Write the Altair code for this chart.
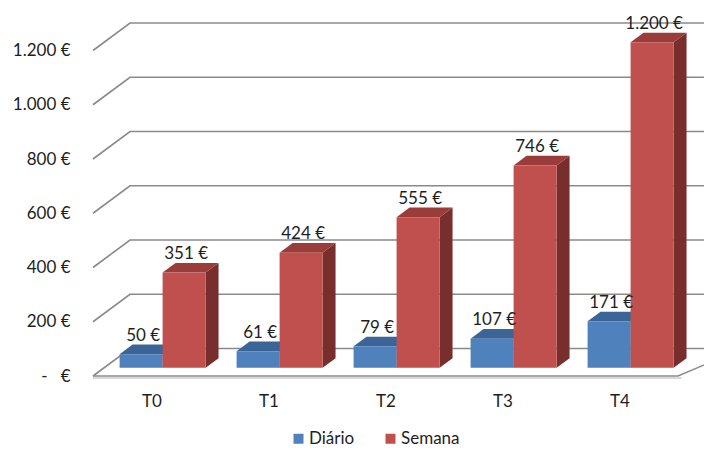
import altair as alt
import pandas as pd

# ---------------- data ----------------
categories = ["T0", "T1", "T2", "T3", "T4"]
series_names = ["Diário", "Semana"]
diario = [50, 61, 79, 107, 171]
semana = [351, 424, 555, 746, 1200]
y_tick_values = [0, 200, 400, 600, 800, 1000, 1200]
NB = "\u00a0"
y_tick_labels = ["-" + NB * 3 + "€", "200 €", "400 €", "600 €", "800 €", "1.000 €", "1.200 €"]

# ---------------- style / geometry ----------------
W, H = 704, 450
CAT_PX = 117.0          # px per category
EUR_PX = 0.27125        # px per euro
X0_PX, Y0_PX = 93.0, 376.0
DEPTH_X = 37.0 / CAT_PX
DEPTH_Y = 27.5 / EUR_PX
BAR_FRONT, BAR_BACK = 0.30, 0.65
DD = BAR_BACK - BAR_FRONT
BAR_W = 43.0 / CAT_PX
RIGHT_SKEW = 65.0 / CAT_PX
GRID_END = len(categories) + RIGHT_SKEW
FONT = "Lato"
FS = 17
TXT = "#1e1e1e"

front_cols = ["#4F81BD", "#C0504D"]
top_cols = ["#3B6596", "#9A3D3A"]
side_cols = ["#2F5078", "#772E2C"]

x_scale = alt.Scale(domain=[-X0_PX / CAT_PX, (W - X0_PX) / CAT_PX], nice=False, zero=False)
y_scale = alt.Scale(domain=[-(H - Y0_PX) / EUR_PX, Y0_PX / EUR_PX], nice=False, zero=False)

# ---------------- derived tables ----------------
fronts, sides, tops, labels = [], [], [], []
all_vals = [diario, semana]
for i, cat in enumerate(categories):
    c = i + 0.5 + BAR_FRONT * DEPTH_X
    for s, name in enumerate(series_names):
        v = all_vals[s][i]
        xl = c - BAR_W + s * BAR_W
        xr = xl + BAR_W
        yb = BAR_FRONT * DEPTH_Y
        yt = v + yb
        bid = f"{cat}-{name}"
        fronts.append(dict(series=name, x=xl, x2=xr, y=yb, y2=yt, order=s))
        sides.append(dict(bid=bid, x=xr, y=yb, y2=yt, fill=side_cols[s], o=s))
        sides.append(dict(bid=bid, x=xr + DD * DEPTH_X, y=yb + DD * DEPTH_Y,
                          y2=yt + DD * DEPTH_Y, fill=side_cols[s], o=s))
        tops.append(dict(bid=bid, y=yt, x=xl, x2=xr, fill=top_cols[s]))
        tops.append(dict(bid=bid, y=yt + DD * DEPTH_Y, x=xl + DD * DEPTH_X,
                         x2=xr + DD * DEPTH_X, fill=top_cols[s]))
        labels.append(dict(x=(xl + xr) / 2, y=yt + DD * DEPTH_Y,
                           text=f"{v:,}".replace(",", ".") + " €"))

grid = []
for t in y_tick_values:
    grid.append(dict(t=t, x=0.0, y=t))
    grid.append(dict(t=t, x=DEPTH_X, y=t + DEPTH_Y))
    grid.append(dict(t=t, x=GRID_END, y=t + DEPTH_Y))

floor = [dict(x=0.0, y=0.0), dict(x=float(len(categories)), y=0.0),
         dict(x=len(categories) + RIGHT_SKEW, y=DEPTH_Y)]
floor_shadow = [dict(x=0.0, y=-7.0), dict(x=float(len(categories)) + 0.03, y=-7.0)]

cat_vals = [i + 0.5 for i in range(len(categories))]


def ternary(values, labs, key="datum.value"):
    expr = "''"
    for v, l in reversed(list(zip(values, labs))):
        expr = f"{key} == {v} ? '{l}' : ({expr})"
    return expr


x_axis = alt.Axis(values=cat_vals, labelExpr=ternary(cat_vals, categories), offset=-(H - 391),
                  ticks=False, tickSize=0, domain=False, grid=False, labelPadding=2,
                  labelFont=FONT, labelFontSize=FS, labelColor=TXT, title=None,
                  labelFlush=False, labelOverlap=False)
y_axis = alt.Axis(values=y_tick_values, labelExpr=ternary(y_tick_values, y_tick_labels),
                  offset=-X0_PX, ticks=False, tickSize=0, domain=False, grid=False,
                  labelPadding=23, labelFont=FONT, labelFontSize=FS, labelColor=TXT,
                  title=None, labelAlign="right", labelBaseline="middle",
                  labelFlush=False, labelOverlap=False)

base_x = alt.X("x:Q", scale=x_scale, axis=x_axis)
base_y = alt.Y("y:Q", scale=y_scale, axis=y_axis)

grid_layer = alt.Chart(pd.DataFrame(grid)).mark_line(color="#8a8a8a", strokeWidth=1.6).encode(
    x=base_x, y=base_y, detail="t:N", order="x:Q")

shadow_layer = alt.Chart(pd.DataFrame(floor_shadow)).mark_line(color="#d9d9d9", strokeWidth=2).encode(
    x=alt.X("x:Q", scale=x_scale), y=alt.Y("y:Q", scale=y_scale))

floor_layer = alt.Chart(pd.DataFrame(floor)).mark_line(color="#8a8a8a", strokeWidth=1.6).encode(
    x=alt.X("x:Q", scale=x_scale), y=alt.Y("y:Q", scale=y_scale), order="x:Q")

side_layer = alt.Chart(pd.DataFrame(sides)).mark_area(orient="vertical").encode(
    x=alt.X("x:Q", scale=x_scale), y=alt.Y("y:Q", scale=y_scale), y2="y2:Q",
    detail="bid:N", color=alt.Color("fill:N", scale=None, legend=None))

top_layer = alt.Chart(pd.DataFrame(tops)).mark_area(orient="horizontal").encode(
    y=alt.Y("y:Q", scale=y_scale), x=alt.X("x:Q", scale=x_scale), x2="x2:Q",
    detail="bid:N", color=alt.Color("fill:N", scale=None, legend=None))

front_layer = alt.Chart(pd.DataFrame(fronts)).mark_rect().encode(
    x=alt.X("x:Q", scale=x_scale), x2="x2:Q",
    y=alt.Y("y:Q", scale=y_scale), y2="y2:Q",
    color=alt.Color("series:N",
                    scale=alt.Scale(domain=series_names, range=front_cols),
                    legend=alt.Legend(orient="none", legendX=290, legendY=430,
                                      direction="horizontal", title=None,
                                      symbolType="square", symbolSize=100,
                                      symbolStrokeWidth=0, labelFont=FONT,
                                      labelFontSize=FS, labelColor=TXT,
                                      labelOffset=2, columnPadding=27, padding=0)))

label_layer = alt.Chart(pd.DataFrame(labels)).mark_text(
    font=FONT, fontSize=FS, color=TXT, baseline="alphabetic", align="center", dy=-4, dx=2
).encode(x=alt.X("x:Q", scale=x_scale), y=alt.Y("y:Q", scale=y_scale), text="text:N")

chart = alt.layer(
    grid_layer, shadow_layer, floor_layer, side_layer, top_layer, front_layer, label_layer
).resolve_scale(color="independent").properties(
    width=W, height=H, autosize="none", padding=0, background="white"
).configure_view(stroke=None)

chart.save("out.html", embed_options={"renderer": "svg", "actions": False})
